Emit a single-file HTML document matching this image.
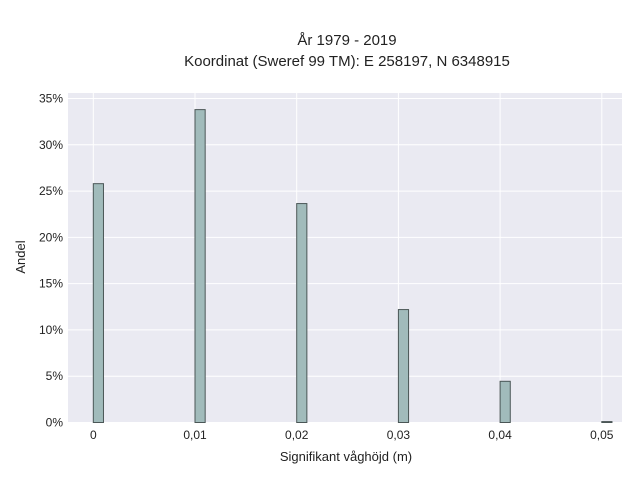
<!DOCTYPE html>
<html><head><meta charset="utf-8"><style>
body{margin:0;background:#fff;font-family:"Liberation Sans",sans-serif}
text{font-family:"Liberation Sans",sans-serif;fill:#222}
</style></head><body>
<svg id="c" width="640" height="480" xmlns="http://www.w3.org/2000/svg">
<text x="347" y="45" text-anchor="middle" font-size="15">År 1979 - 2019</text>
<text x="347" y="66" text-anchor="middle" font-size="15">Koordinat (Sweref 99 TM): E 258197, N 6348915</text>
<rect x="68" y="93" width="554" height="329.5" fill="#eaeaf2"/>
<g id="grid"></g><g id="bars"></g><g id="ticks"></g>
<text x="346" y="461" text-anchor="middle" font-size="13">Signifikant våghöjd (m)</text>
<text transform="translate(25,257) rotate(-90)" text-anchor="middle" font-size="13">Andel</text>
</svg>
<script>
const categories=[0,0.01,0.02,0.03,0.04,0.05];
const values=[25.8,33.8,23.65,12.2,4.45,0.1];
const xTicks=[0,0.01,0.02,0.03,0.04,0.05];
const xTickLabels=["0","0,01","0,02","0,03","0,04","0,05"];
const yTicks=[0,5,10,15,20,25,30,35];
const NS="http://www.w3.org/2000/svg";
const xs=v=>93.3+v*10170, ys=v=>422.5-v*9.257;
function mk(t,a,p){const e=document.createElementNS(NS,t);for(const k in a)e.setAttribute(k,a[k]);p.appendChild(e);return e;}
const g=document.getElementById('grid'),b=document.getElementById('bars'),tk=document.getElementById('ticks');
yTicks.forEach(v=>{const l=mk('line',{x1:68,x2:622,y1:ys(v),y2:ys(v),stroke:'#fff','stroke-width':1},g);

const t=mk('text',{x:63,y:ys(v)+4,'text-anchor':'end','font-size':12},tk);t.textContent=v+'%';
});
xTicks.forEach((v,i)=>{const l=mk('line',{x1:xs(v),x2:xs(v),y1:93,y2:422.5,stroke:'#fff','stroke-width':1},g);

const t=mk('text',{x:xs(v),y:439,'text-anchor':'middle','font-size':12},tk);t.textContent=xTickLabels[i];
});
categories.forEach((c,i)=>{const x0=xs(c),x1=xs(c+0.001),y=ys(values[i]);
const r=mk('rect',{x:x0,y:y,width:x1-x0,height:422.5-y,fill:'#a1bbbb',stroke:'#4a5656','stroke-width':1},b);
});
</script>
</body></html>
